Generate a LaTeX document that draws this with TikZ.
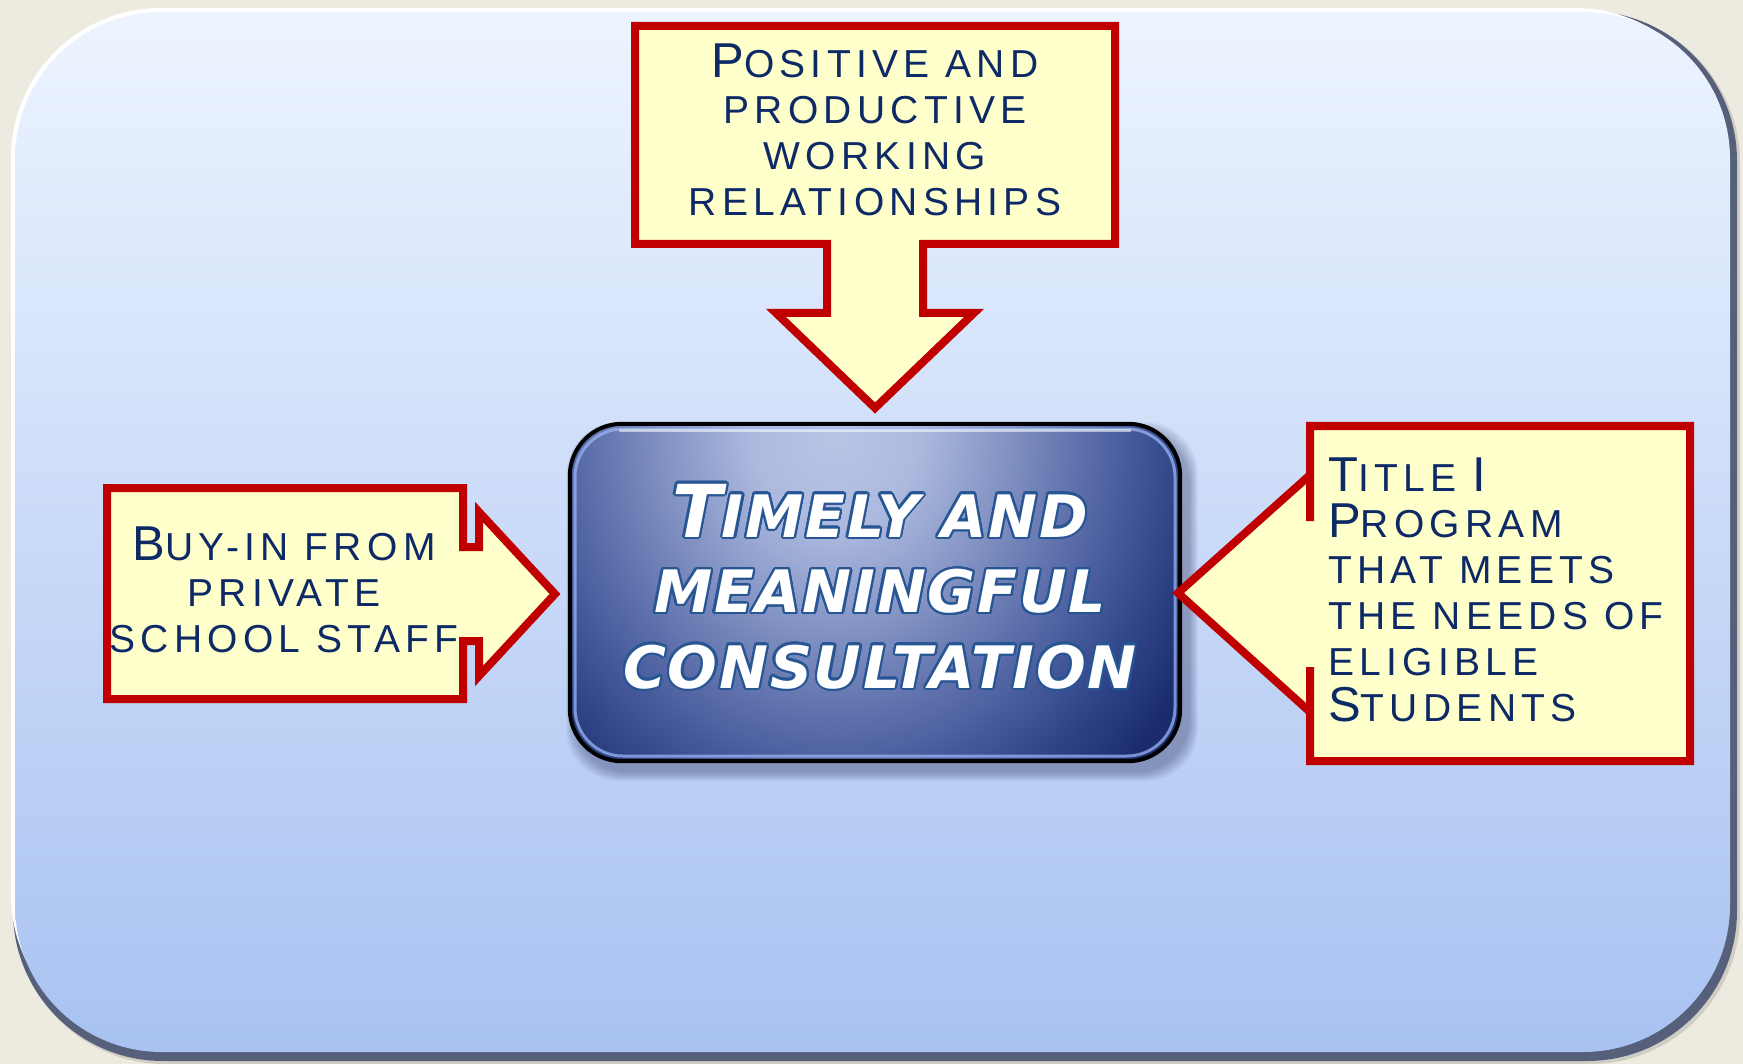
\documentclass[tikz,border=0pt]{standalone}
\usepackage{fontspec}
\usepackage{contour}
\setmainfont{Liberation Sans}
\newfontfamily\callfont[LetterSpace=13.5]{Liberation Sans}
\newfontfamily\boxfont[LetterSpace=3]{DejaVu Sans}
\definecolor{pagebg}{HTML}{EDEAE0}
\definecolor{paneltop}{HTML}{EDF4FF}
\definecolor{panelbot}{HTML}{A8C2F1}
\definecolor{panelrim}{HTML}{56607A}
\definecolor{callfill}{HTML}{FFFFCC}
\definecolor{callred}{HTML}{C00000}
\definecolor{navy}{HTML}{0E2A66}
\definecolor{outl}{HTML}{285694}
\definecolor{gA}{HTML}{B8C5E6}
\definecolor{gB}{HTML}{ADBADF}
\definecolor{gC}{HTML}{8191C2}
\definecolor{gD}{HTML}{5063A2}
\definecolor{gE}{HTML}{31478A}
\definecolor{gF}{HTML}{1A2C6E}
\definecolor{gG}{HTML}{15276A}
\definecolor{bevel}{HTML}{9AB4EE}
\pgfdeclareradialshading{boxglow}{\pgfpoint{0bp}{0bp}}{color(0bp)=(gA); color(5bp)=(gB); color(10.5bp)=(gC); color(16.5bp)=(gD); color(20.5bp)=(gE); color(24.5bp)=(gF); color(50bp)=(gG)}
\newcommand\cbig[1]{{\fontsize{49}{49}\selectfont #1}}
\newcommand\bbig[1]{{\fontsize{73}{73}\selectfont #1}}
\contourlength{2.2pt}
\contournumber{24}
\tikzset{
  callout/.style={fill=callfill, draw=callred, line width=8pt, line join=miter},
  calltext/.style={font=\callfont\fontsize{39}{46}\selectfont, text=navy, inner sep=0pt},
  boxtext/.style={font=\boxfont\bfseries\itshape\fontsize{58.5}{75.5}\selectfont, text=white, inner sep=0pt, align=center},
}
\begin{document}
\begin{tikzpicture}[x=1pt,y=-1pt]
\useasboundingbox (0,0) rectangle (1743,1064);
\fill[pagebg] (0,0) rectangle (1743,1064);
% panel
\fill[black, opacity=0.12, rounded corners=150pt] (15,13) rectangle (1740,1064);
\fill[panelrim, rounded corners=150pt] (13,11) rectangle (1737,1061);
\fill[white, rounded corners=150pt] (11,8) rectangle (1725,1045);
\shade[top color=paneltop, bottom color=panelbot, rounded corners=147pt] (15,12) rectangle (1730,1052);
% central box shadow
\foreach \i in {1,...,10}{
  \fill[black!80!blue, opacity=0.03, rounded corners=52pt] ({576-\i},{432-\i}) rectangle ({1188+\i},{771+\i});
}
\node[name=core, shape=rectangle, minimum width=610pt, minimum height=337pt, inner sep=0pt] at (875,592.5) {};
\begin{scope}
  \clip[rounded corners=52pt] (core.north west) rectangle (core.south east);
  \shade[shading=boxglow] (420,-62) rectangle (1250,918);
  \draw[bevel, opacity=0.75, line width=3pt, rounded corners=48pt] (575,429) rectangle (1175,756);
  \draw[white, opacity=0.55, line width=3pt, line cap=round] (620,430) -- (1130,430);
\end{scope}
\draw[black, line width=4pt, rounded corners=52pt] (core.north west) rectangle (core.south east);
\node[boxtext, anchor=base] (ctext) at (880,688) {\contour{outl}{\bbig{T}IMELY AND}\\\contour{outl}{MEANINGFUL}\\\contour{outl}{CONSULTATION}};
% top callout
\draw[callout] (635,26) -- (1115,26) -- (1115,244) -- (923,244) -- (923,313) -- (974,313)
  -- (875,408) coordinate (toptip) -- (776,313) -- (827,313) -- (827,244) -- (635,244) -- cycle;
\node[calltext, align=center, anchor=base] (toptext) at (875,216) {\cbig{P}OSITIVE AND\\PRODUCTIVE\\WORKING\\RELATIONSHIPS};
% left callout
\draw[callout] (107,488) -- (463,488) -- (463,547) -- (479,547) -- (479,512)
  -- (555,594) coordinate (lefttip) -- (479,676) -- (479,641) -- (463,641) -- (463,699) -- (107,699) -- cycle;
\node[calltext, align=center, anchor=base] (lefttext) at (284,652) {\cbig{B}UY-IN FROM\\PRIVATE\\SCHOOL STAFF};
% right callout
\draw[callout] (1310,426) -- (1690,426) -- (1690,761) -- (1310,761) -- (1310,667) -- (1310,712)
  -- (1178,593) coordinate (righttip) -- (1310,475) -- (1310,521) -- cycle;
\node[calltext, align=left, anchor=base west] (righttext) at (1328,721) {\cbig{T}ITLE \cbig{I}\\\cbig{P}ROGRAM\\THAT MEETS\\THE NEEDS OF\\ELIGIBLE\\\cbig{S}TUDENTS};
\end{tikzpicture}
\end{document}
